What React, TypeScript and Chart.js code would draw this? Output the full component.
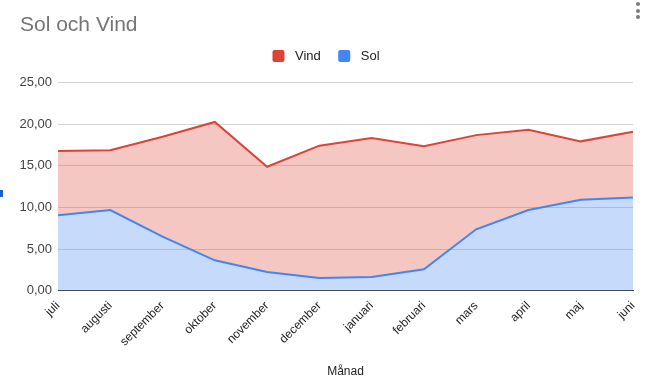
import { useEffect, useRef } from 'react';
import { Chart, registerables } from 'chart.js';

Chart.register(...registerables);

// Months along the x axis (July through June)
const months = [
  'juli', 'augusti', 'september', 'oktober', 'november', 'december',
  'januari', 'februari', 'mars', 'april', 'maj', 'juni',
];

// Solar share per month (bottom layer of the stack)
const sol = [9.06, 9.7, 6.5, 3.65, 2.25, 1.53, 1.65, 2.57, 7.38, 9.7, 10.94, 11.2];

// Wind share per month (stacked on top of solar)
const vind = [7.74, 7.17, 12.0, 16.63, 12.65, 15.9, 16.7, 14.78, 11.32, 9.65, 7.01, 7.9];

// Value-axis ticks
const yTicks = [0, 5, 10, 15, 20, 25];

const FONT = '"Liberation Sans", Arial, Helvetica, sans-serif';

const RED = '#db4437';
const BLUE = '#4285f4';

// Legend drawn as rounded squares followed by the series name, top dataset first
const sheetLegend = {
  id: 'sheetLegend',
  afterDraw(chart: any, _args: any, opts: any) {
    const ctx = chart.ctx as CanvasRenderingContext2D;
    const order: number[] = opts.order;
    const items = order.map((i) => chart.data.datasets[i]);
    const box = 12;
    const gap = 10.5;
    const itemGap = 17.5;
    ctx.save();
    ctx.font = `13px ${FONT}`;
    const widths = items.map((ds: any) => box + gap + ctx.measureText(ds.label).width);
    const total = widths.reduce((a: number, b: number) => a + b, 0) + itemGap * (items.length - 1);
    let x = opts.centerX - total / 2;
    const cy = opts.centerY;
    items.forEach((ds: any, k: number) => {
      ctx.fillStyle = ds.borderColor;
      ctx.beginPath();
      ctx.roundRect(x, cy - box / 2, box, box, 2);
      ctx.fill();
      ctx.fillStyle = '#222222';
      ctx.textBaseline = 'middle';
      ctx.textAlign = 'left';
      ctx.fillText(ds.label, x + box + gap, cy + 0.5);
      x += widths[k] + itemGap;
    });
    ctx.restore();
  },
};

export default function App() {
  const canvasRef = useRef<HTMLCanvasElement | null>(null);

  useEffect(() => {
    if (!canvasRef.current) return;
    const chart = new Chart(canvasRef.current, {
      type: 'line',
      data: {
        labels: months,
        datasets: [
          {
            label: 'Sol',
            data: sol,
            borderColor: BLUE,
            backgroundColor: 'rgba(66, 133, 244, 0.3)',
            borderWidth: 2,
            pointRadius: 0,
            pointHoverRadius: 0,
            tension: 0,
            fill: 'origin',
          },
          {
            label: 'Vind',
            data: vind,
            borderColor: RED,
            backgroundColor: 'rgba(219, 68, 55, 0.3)',
            borderWidth: 2,
            pointRadius: 0,
            pointHoverRadius: 0,
            tension: 0,
            fill: '-1',
          },
        ],
      },
      options: {
        animation: false,
        responsive: true,
        maintainAspectRatio: false,
        layout: { padding: { left: 20, right: 13, top: 0, bottom: 0 } },
        plugins: {
          legend: { display: false },
          tooltip: { enabled: false },
          title: {
            display: true,
            text: 'Sol och Vind',
            align: 'start',
            color: '#757575',
            font: { family: FONT, size: 21, weight: 'normal' },
            padding: { top: 13, bottom: 44.5 },
          },
          // @ts-ignore custom plugin options
          sheetLegend: { order: [1, 0], centerX: 326, centerY: 56 },
        },
        scales: {
          x: {
            type: 'category',
            offset: false,
            grid: { display: false, drawTicks: false },
            border: { display: true, color: '#444444', width: 1 },
            ticks: {
              autoSkip: false,
              minRotation: 45,
              maxRotation: 45,
              padding: 8,
              color: '#222222',
              font: { family: FONT, size: 12 },
            },
            title: {
              display: true,
              text: 'Månad',
              color: '#222222',
              font: { family: FONT, size: 12 },
              padding: { top: 4, bottom: 6 },
            },
            afterFit(scale: any) {
              scale.height = 94.3;
              scale.paddingLeft = 0;
              scale.paddingRight = 0;
            },
          },
          y: {
            stacked: true,
            min: 0,
            max: 25,
            grid: {
              drawTicks: false,
              color: (c: any) => (c.tick && c.tick.value === 0 ? 'rgba(0,0,0,0)' : '#d4d4d4'),
            },
            border: { display: false },
            ticks: {
              padding: 6,
              color: '#444444',
              font: { family: FONT, size: 13 },
              callback: (v: any) => Number(v).toFixed(2).replace('.', ','),
            },
            afterBuildTicks(scale: any) {
              scale.ticks = yTicks.map((value) => ({ value }));
            },
            afterFit(scale: any) {
              scale.width = 38;
            },
          },
        },
      },
      plugins: [sheetLegend],
    });
    return () => chart.destroy();
  }, []);

  const dot = (top: number) => ({
    position: 'absolute' as const,
    left: 636,
    top,
    width: 4,
    height: 4,
    borderRadius: 2,
    background: '#7a7a7a',
  });

  return (
    <div
      style={{
        position: 'fixed',
        left: 0,
        top: 0,
        width: 646,
        height: 385,
        background: '#ffffff',
        overflow: 'hidden',
      }}
    >
      <canvas ref={canvasRef} />
      <div style={dot(2)} />
      <div style={dot(8.7)} />
      <div style={dot(15)} />
      <div
        style={{
          position: 'absolute',
          left: 0,
          top: 190,
          width: 3,
          height: 7,
          background: '#1a5fd6',
        }}
      />
    </div>
  );
}
